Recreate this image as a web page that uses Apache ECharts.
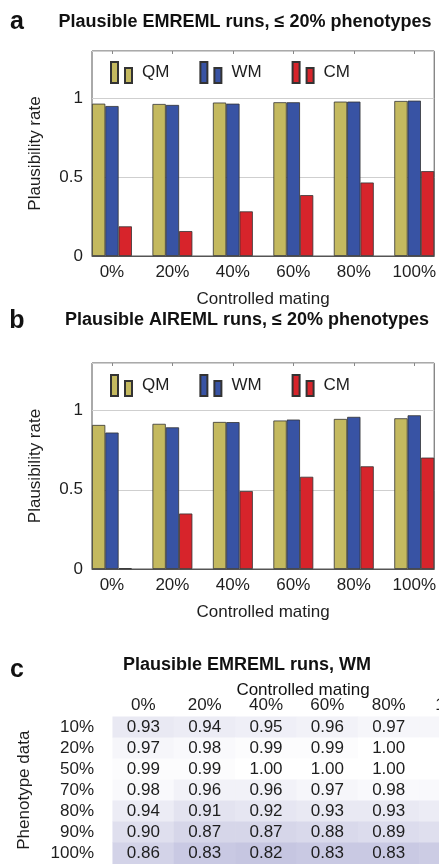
<!DOCTYPE html>
<html><head><meta charset="utf-8">
<script src="https://cdn.jsdelivr.net/npm/echarts@6/dist/echarts.min.js"></script>
<style>html,body{margin:0;padding:0;background:#fff}#c{width:439px;height:864px}</style>
</head><body><div id="c"></div>
<script>
// ---- data ----
const xLabels = ['0%', '20%', '40%', '60%', '80%', '100%'];
const yTicks = [0, 0.5, 1];
const yTickLabels = ['0', '0.5', '1'];
const seriesNames = ['QM', 'WM', 'CM'];
// panel a: EMREML
const emQM = [0.966, 0.964, 0.973, 0.975, 0.979, 0.983];
const emWM = [0.951, 0.958, 0.966, 0.975, 0.979, 0.985];
const emCM = [0.188, 0.158, 0.283, 0.386, 0.466, 0.538];
// panel b: AIREML
const aiQM = [0.909, 0.916, 0.928, 0.937, 0.947, 0.951];
const aiWM = [0.861, 0.894, 0.927, 0.943, 0.960, 0.970];
const aiCM = [0.005, 0.350, 0.492, 0.582, 0.648, 0.703];
// panel c: EMREML WM table
const phenoLabels = ['10%', '20%', '50%', '70%', '80%', '90%', '100%'];
const row10 = [0.93, 0.94, 0.95, 0.96, 0.97, 0.97];
const row20 = [0.97, 0.98, 0.99, 0.99, 1.00, 1.00];
const row50 = [0.99, 0.99, 1.00, 1.00, 1.00, 1.00];
const row70 = [0.98, 0.96, 0.96, 0.97, 0.98, 0.98];
const row80 = [0.94, 0.91, 0.92, 0.93, 0.93, 0.94];
const row90 = [0.90, 0.87, 0.87, 0.88, 0.89, 0.90];
const row100 = [0.86, 0.83, 0.82, 0.83, 0.83, 0.84];
const tableRows = [row10, row20, row50, row70, row80, row90, row100];

const titleA = 'Plausible EMREML runs, \u2264 20% phenotypes';
const titleB = 'Plausible AIREML runs, \u2264 20% phenotypes';
const titleC = 'Plausible EMREML runs, WM';
const xName = 'Controlled mating';
const yName = 'Plausibility rate';
const yNameC = 'Phenotype data';

// ---- chart ----
const FONT = 'Liberation Sans';
const TXT = '#1e1e1e';
const colors = { QM: '#c4b95f', WM: '#3853a4', CM: '#d7242b' };
const iconPath = 'path://M0,0L7,0L7,21L0,21Z M14,6L21,6L21,21L14,21Z';
const xIdx = xLabels.map((_, i) => i);
const lastCol = xLabels.length - 1;

function barSeries(name, arr, k) {
  return {
    type: 'bar', name: name, xAxisIndex: 2 * k, yAxisIndex: k,
    data: arr.map((v, i) => [i, v]),
    barWidth: 13.3, barGap: '0%',
    itemStyle: { color: colors[name], borderColor: '#333', borderWidth: 0.8 },
    emphasis: { disabled: true }
  };
}
function valX(k) {
  return [{
    type: 'value', gridIndex: k, min: -0.33, max: 5.33,
    splitLine: { show: false },
    axisLine: { show: true, lineStyle: { color: '#555', width: 1 } },
    axisTick: { show: false },
    axisLabel: { customValues: xIdx, formatter: v => xLabels[Math.round(v)], margin: 8,
      fontSize: 17, fontFamily: FONT, color: TXT },
    name: xName, nameLocation: 'middle', nameGap: 35,
    nameTextStyle: { fontSize: 17, fontFamily: FONT, color: TXT }
  }, {
    type: 'value', gridIndex: k, min: -0.33, max: 5.33, position: 'top',
    splitLine: { show: false }, axisLine: { show: false },
    axisLabel: { show: false },
    axisTick: { show: true, inside: true, length: 3, customValues: xIdx, lineStyle: { color: '#888' } }
  }];
}
function valY(k) {
  return {
    type: 'value', gridIndex: k, min: 0, max: 1.3, interval: 0.5,
    axisLine: { show: false }, axisTick: { show: false },
    splitLine: { show: true, lineStyle: { color: '#cfcfcf', width: 1 } },
    axisLabel: {
      formatter: v => { const j = yTicks.findIndex(t => Math.abs(t - v) < 1e-6); return j >= 0 ? yTickLabels[j] : ''; },
      margin: 9, fontSize: 17, fontFamily: FONT, color: TXT
    },
    name: yName, nameLocation: 'middle', nameGap: 48,
    nameTextStyle: { fontSize: 17, fontFamily: FONT, color: TXT }
  };
}
function legend(top) {
  return {
    left: 110, top: top, data: seriesNames, icon: iconPath, itemWidth: 21, itemHeight: 21,
    itemGap: 30, selectedMode: false, padding: 0,
    textStyle: { fontSize: 17, fontFamily: FONT, color: TXT, padding: [0, 0, 0, 5] }
  };
}

const heatData = [];
tableRows.forEach((row, r) => row.forEach((v, c) => {
  const item = { value: [c, r, v] };
  if (c === lastCol) item.label = { offset: [7, 0] };
  heatData.push(item);
}));
const headerData = xLabels.map((t, i) => i === lastCol
  ? { value: t, textStyle: { padding: [0, 0, 0, 14] } } : t);

function gtext(t, x, y, size, bold, align) {
  return { type: 'text', x: x, y: y, silent: true,
    style: { text: t, fontSize: size, fontFamily: FONT, fontWeight: bold ? 'bold' : 'normal',
      fill: '#111', align: align || 'center', verticalAlign: 'middle' } };
}

const option = {
  animation: false,
  grid: [
    { left: 92, top: 51, width: 345, height: 205, show: true, borderColor: '#555', borderWidth: 1 },
    { left: 92, top: 363, width: 345, height: 206, show: true, borderColor: '#555', borderWidth: 1 },
    { left: 112.7, top: 716.7, width: 368, height: 147, outerBoundsMode: 'none', containLabel: false }
  ],
  xAxis: [].concat(valX(0), valX(1), [{
    type: 'category', gridIndex: 2, position: 'top', data: headerData,
    axisLine: { show: false }, axisTick: { show: false }, splitLine: { show: false },
    axisLabel: { interval: 0, margin: 3, fontSize: 17, fontFamily: FONT, color: TXT }
  }]),
  yAxis: [valY(0), valY(1), {
    type: 'category', gridIndex: 2, data: phenoLabels, inverse: true,
    axisLine: { show: false }, axisTick: { show: false }, splitLine: { show: false },
    axisLabel: { interval: 0, margin: 18.7, fontSize: 17, fontFamily: FONT, color: TXT },
    name: yNameC, nameLocation: 'middle', nameGap: 80,
    nameTextStyle: { fontSize: 17, fontFamily: FONT, color: TXT }
  }],
  legend: [legend(61), legend(374)],
  visualMap: { show: false, seriesIndex: 6, min: 0.82, max: 1.0, inRange: { color: ['#c6c6e1', '#ffffff'] } },
  series: [
    barSeries('QM', emQM, 0), barSeries('WM', emWM, 0), barSeries('CM', emCM, 0),
    barSeries('QM', aiQM, 1), barSeries('WM', aiWM, 1), barSeries('CM', aiCM, 1),
    {
      type: 'heatmap', name: 'table', xAxisIndex: 4, yAxisIndex: 2, data: heatData,
      itemStyle: { borderWidth: 0 },
      label: { show: true, formatter: p => p.value[2].toFixed(2), fontSize: 17, fontFamily: FONT, color: TXT },
      emphasis: { disabled: true }
    }
  ],
  graphic: [
    gtext('a', 17, 22, 25, true), gtext(titleA, 245, 22, 18, true),
    gtext('b', 17, 321, 25, true), gtext(titleB, 247, 320, 18, true),
    gtext('c', 17, 670, 25, true), gtext(titleC, 247, 665, 18, true),
    gtext(xName, 303, 690, 17, false)
  ]
};
const chart = echarts.init(document.getElementById('c'), null, { renderer: 'canvas' });
chart.setOption(option);
</script></body></html>
